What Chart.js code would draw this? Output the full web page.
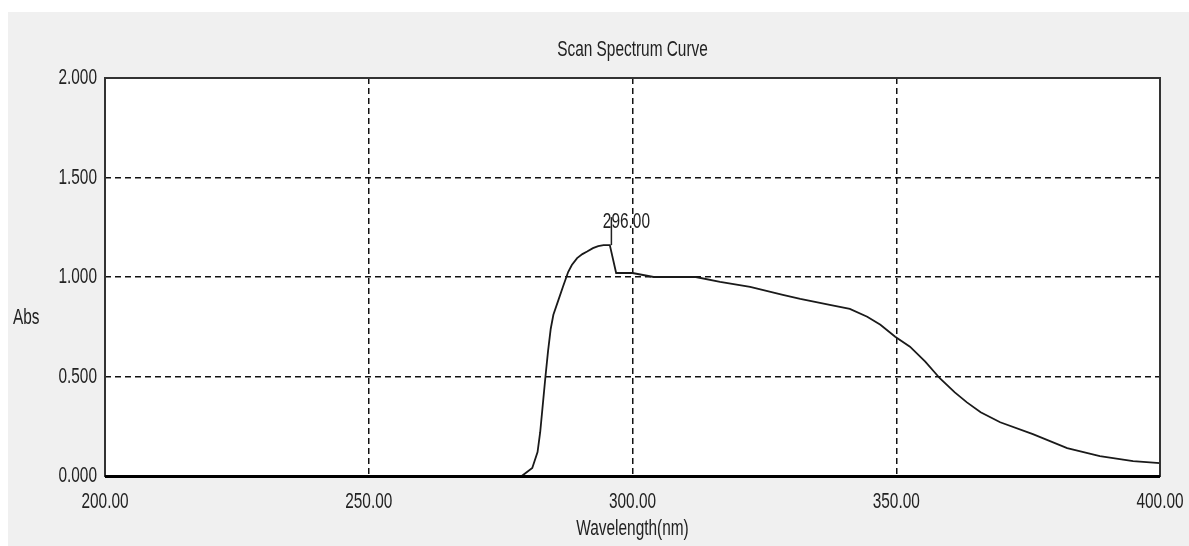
<!DOCTYPE html>
<html>
<head>
<meta charset="utf-8">
<script src="https://cdn.jsdelivr.net/npm/chart.js@4.4.1/dist/chart.umd.min.js"></script>
<style>
  html, body { margin: 0; padding: 0; background: #ffffff; overflow: hidden; }
  #wrap { width: 1189px; height: 546px; position: relative; }
</style>
</head>
<body>
<div id="wrap"><canvas id="spectrumChart"></canvas></div>
<script>
/*=========================================
DATA
=========================================*/

const wavelengths = [200, 279, 281, 282, 282.5, 283, 283.5, 284, 284.5, 285, 285.9, 286.8, 287.8, 288.5, 289.5, 290.5, 291.4, 292.5, 293.5, 294.5, 295.7, 296.9, 300, 304, 312, 316.6, 322.3, 328.5, 331.8, 337.4, 341.2, 344.5, 347, 349.8, 352.6, 355.5, 358.3, 361.1, 363.4, 366, 369.7, 375.9, 382.4, 388.6, 394.9, 400];

const absorbance = [0, 0, 0.04, 0.12, 0.22, 0.36, 0.50, 0.63, 0.74, 0.81, 0.88, 0.95, 1.025, 1.06, 1.095, 1.115, 1.128, 1.145, 1.155, 1.16, 1.16, 1.02, 1.02, 1.0, 1.0, 0.975, 0.95, 0.91, 0.89, 0.86, 0.84, 0.80, 0.76, 0.70, 0.65, 0.575, 0.49, 0.42, 0.37, 0.32, 0.27, 0.21, 0.14, 0.10, 0.075, 0.065];

const xTicks = [200, 250, 300, 350, 400];
const yTicks = [0, 0.5, 1.0, 1.5, 2.0];

const peakWavelength = 296;
const peakAbs = 1.16;
const peakLabel = "296.00";

const chartTitle = "Scan Spectrum Curve";
const xTitle = "Wavelength(nm)";
const yTitle = "Abs";

/*=========================================
CHART
=========================================*/

const FONT = "22px 'Liberation Sans', Arial, sans-serif";
const SX = 0.7;   // narrow the text like the old bitmap font

const points = wavelengths.map((w, i) => ({ x: w, y: absorbance[i] }));

function drawText(ctx, text, x, y, align) {

    ctx.save();
    ctx.translate(x, y);
    ctx.scale(SX, 1);
    ctx.textAlign = align;
    ctx.fillText(text, 0, 0);
    ctx.restore();

}

const frame = {

    id: "frame",

    beforeDraw(chart) {

        const { ctx, chartArea: a } = chart;

        ctx.save();
        ctx.fillStyle = "#ffffff";
        ctx.fillRect(0, 0, chart.width, chart.height);
        ctx.fillStyle = "#f0f0f0";
        ctx.fillRect(8, 12, chart.width - 8, chart.height - 12);
        ctx.fillStyle = "#ffffff";
        ctx.fillRect(a.left, a.top, a.right - a.left, a.bottom - a.top);
        ctx.restore();

    },

    afterDraw(chart) {

        const { ctx, chartArea: a, scales } = chart;

        ctx.save();

        // plot frame
        ctx.strokeStyle = "#333333";
        ctx.lineWidth = 2;
        ctx.strokeRect(a.left, a.top, a.right - a.left, a.bottom - a.top);
        ctx.strokeStyle = "#000000";
        ctx.lineWidth = 3;
        ctx.beginPath();
        ctx.moveTo(a.left, a.bottom + 0.5);
        ctx.lineTo(a.right, a.bottom + 0.5);
        ctx.stroke();

        // tick labels
        ctx.fillStyle = "#222222";
        ctx.font = FONT;
        ctx.textBaseline = "middle";

        scales.x.ticks.forEach(t => {
            drawText(ctx, Number(t.value).toFixed(2), scales.x.getPixelForValue(t.value), 502, "center");
        });

        scales.y.ticks.forEach(t => {
            drawText(ctx, Number(t.value).toFixed(3), a.left - 8, scales.y.getPixelForValue(t.value), "right");
        });

        // titles
        drawText(ctx, chartTitle, (a.left + a.right) / 2, 50, "center");
        drawText(ctx, xTitle, (a.left + a.right) / 2, 529, "center");
        drawText(ctx, yTitle, 13, 318, "left");

        // peak marker
        const px = scales.x.getPixelForValue(peakWavelength);
        const py = scales.y.getPixelForValue(peakAbs);
        ctx.strokeStyle = "#222222";
        ctx.lineWidth = 1.5;
        ctx.beginPath();
        ctx.moveTo(px, py);
        ctx.lineTo(px, py - 28);
        ctx.stroke();
        drawText(ctx, peakLabel, px + 15, py - 23, "center");

        ctx.restore();

    }

};

new Chart(document.getElementById("spectrumChart"), {

    type: "line",

    data: {

        datasets: [{

            data: points,

            borderColor: "#1a1a1a",

            borderWidth: 1.8,

            pointRadius: 0,

            tension: 0,

            fill: false,

            clip: false

        }]

    },

    options: {

        responsive: true,

        maintainAspectRatio: false,

        animation: false,

        events: [],

        layout: {

            padding: { left: 8, top: 78, right: 29, bottom: 0 }

        },

        scales: {

            x: {

                type: "linear",

                min: 200,

                max: 400,

                afterFit: (scale) => { scale.height = 70; },

                afterBuildTicks: (scale) => { scale.ticks = xTicks.map(v => ({ value: v })); },

                ticks: { display: false },

                grid: {

                    drawTicks: false,

                    lineWidth: 1.5,

                    color: (c) => (c.tick && (c.tick.value === 200 || c.tick.value === 400)) ? "rgba(0,0,0,0)" : "#111111"

                },

                border: { display: false, dash: [6, 4] }

            },

            y: {

                min: 0,

                max: 2,

                afterFit: (scale) => { scale.width = 97; },

                afterBuildTicks: (scale) => { scale.ticks = yTicks.map(v => ({ value: v })); },

                ticks: { display: false },

                grid: {

                    drawTicks: false,

                    lineWidth: 1.5,

                    color: (c) => (c.tick && (c.tick.value === 0 || c.tick.value === 2)) ? "rgba(0,0,0,0)" : "#111111"

                },

                border: { display: false, dash: [6, 4] }

            }

        },

        plugins: {

            legend: { display: false },

            tooltip: { enabled: false }

        }

    },

    plugins: [frame]

});
</script>
</body>
</html>
